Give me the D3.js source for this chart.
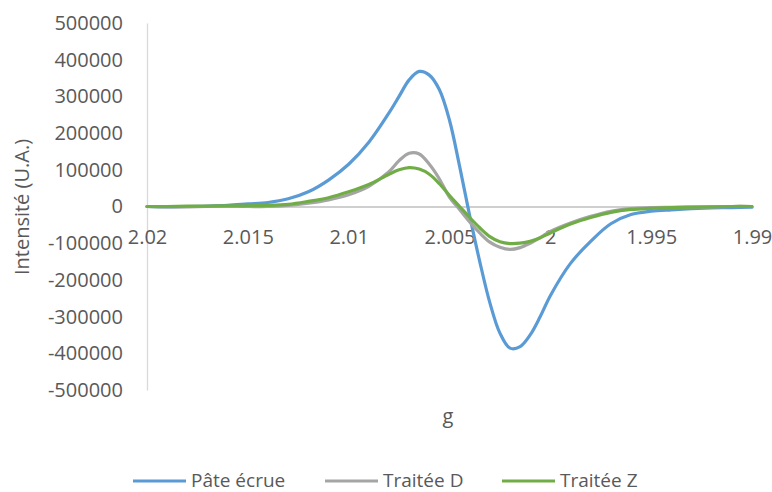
<!DOCTYPE html>
<html>
<head>
<meta charset="utf-8">
<script src="https://cdn.jsdelivr.net/npm/d3@7"></script>
<style>
  body { margin: 0; background: #fff; }
  text { font-family: "Open Sans", sans-serif; fill: #595959; }
</style>
</head>
<body>
<svg id="chart" width="772" height="492"></svg>
<script>
var gValues = [2.02, 2.019, 2.018, 2.017, 2.016, 2.015, 2.014, 2.013, 2.012, 2.011, 2.01, 2.009, 2.008,
  2.0075, 2.007, 2.0065, 2.006, 2.0055, 2.005, 2.0045, 2.004, 2.0035, 2.003, 2.0025, 2.002, 2.0015,
  2.001, 2.0005, 2, 1.999, 1.998, 1.997, 1.996, 1.995, 1.994, 1.993, 1.992, 1.991, 1.99];

var pateEcrue = [0, -1000, 0, 1000, 3000, 7000, 11000, 21000, 40000, 72000, 115000, 175000, 255000,
  300000, 345000, 368000, 358000, 318000, 235000, 110000, -25000, -150000, -262000, -345000, -386000, -382000,
  -350000, -300000, -243000, -155000, -95000, -47000, -22000, -13000, -9000, -6000, -4000, -3000, -2000];

var traiteeD = [0, -1000, -1000, 0, 0, 0, 0, 3000, 9000, 18000, 32000, 55000, 95000,
  125000, 145000, 143000, 115000, 75000, 25000, -8000, -42000, -72000, -97000, -111000, -117000, -112000,
  -100000, -85000, -68000, -45000, -27000, -13000, -6000, -3000, -2000, -1000, -1000, 0, 0];

var traiteeZ = [0, 0, 1000, 1000, 2000, 2000, 3000, 6000, 14000, 24000, 40000, 60000, 88000,
  100000, 106000, 102000, 88000, 62000, 30000, 0, -30000, -58000, -82000, -96000, -101000, -100000,
  -95000, -85000, -72000, -48000, -30000, -16000, -8000, -5000, -3000, -2000, -1000, 0, 0];

var seriesNames = ['Pâte écrue', 'Traitée D', 'Traitée Z'];
var seriesColors = ['#5B9BD5', '#A5A5A5', '#70AD47'];
var xTicks = [2.02, 2.015, 2.01, 2.005, 2, 1.995, 1.99];
var yTicks = [500000, 400000, 300000, 200000, 100000, 0, -100000, -200000, -300000, -400000, -500000];

var svg = d3.select('#chart');

var xScale = d3.scaleLinear()
  .domain([2.02, 1.99]) // g decreases to the right
  .range([147, 752]);
var yScale = d3.scaleLinear()
  .domain([-500000, 500000])
  .range([390, 23]);

// y axis, plain hyphen for negatives like the original
var yAxis = svg.append('g')
  .attr('transform', 'translate(147,0)')
  .call(d3.axisLeft(yScale).tickValues(yTicks).tickSize(0).tickPadding(24)
    .tickFormat(function (d) { return String(d); }));
yAxis.select('.domain').attr('stroke', '#D9D9D9').attr('stroke-width', 1.3);
yAxis.selectAll('text').attr('font-size', '20px').attr('fill', '#595959')
  .style('font-family', '"Open Sans", sans-serif');

// x axis along zero
var xAxis = svg.append('g')
  .attr('transform', 'translate(0,' + yScale(0) + ')')
  .call(d3.axisBottom(xScale).tickValues(xTicks).tickSize(0).tickPadding(23)
    .tickFormat(function (d) { return String(d); }));
xAxis.select('.domain').attr('stroke', '#BFBFBF').attr('stroke-width', 1.3);
xAxis.selectAll('text').attr('font-size', '20px').attr('fill', '#595959')
  .style('font-family', '"Open Sans", sans-serif');

// lines
var allSeries = [pateEcrue, traiteeD, traiteeZ];
var line = d3.line()
  .x(function (d, i) { return xScale(gValues[i]); })
  .y(function (d) { return yScale(d); })
  .curve(d3.curveCatmullRom.alpha(0.5));

svg.selectAll('path.serie')
  .data(allSeries)
  .enter()
  .append('path')
  .attr('class', 'serie')
  .attr('d', line)
  .attr('fill', 'none')
  .attr('stroke', function (d, i) { return seriesColors[i]; })
  .attr('stroke-width', 3.2)
  .attr('stroke-linejoin', 'round')
  .attr('stroke-linecap', 'round');

// axis titles
svg.append('text')
  .attr('transform', 'translate(29,207) rotate(-90)')
  .attr('text-anchor', 'middle')
  .attr('font-size', '20px')
  .text('Intensité (U.A.)');

svg.append('text')
  .attr('x', 448)
  .attr('y', 423)
  .attr('text-anchor', 'middle')
  .attr('font-size', '20px')
  .text('g');

// legend
var legendX = [133, 325, 502];
var legend = svg.selectAll('g.legend')
  .data(seriesNames)
  .enter()
  .append('g')
  .attr('class', 'legend')
  .attr('transform', function (d, i) { return 'translate(' + legendX[i] + ',481)'; });
legend.append('line')
  .attr('x1', 0).attr('x2', 53)
  .attr('y1', 0).attr('y2', 0)
  .attr('stroke', function (d, i) { return seriesColors[i]; })
  .attr('stroke-width', 3.2);
legend.append('text')
  .attr('x', 58)
  .attr('y', 6)
  .attr('font-size', '19px')
  .text(function (d) { return d; });
</script>
</body>
</html>
